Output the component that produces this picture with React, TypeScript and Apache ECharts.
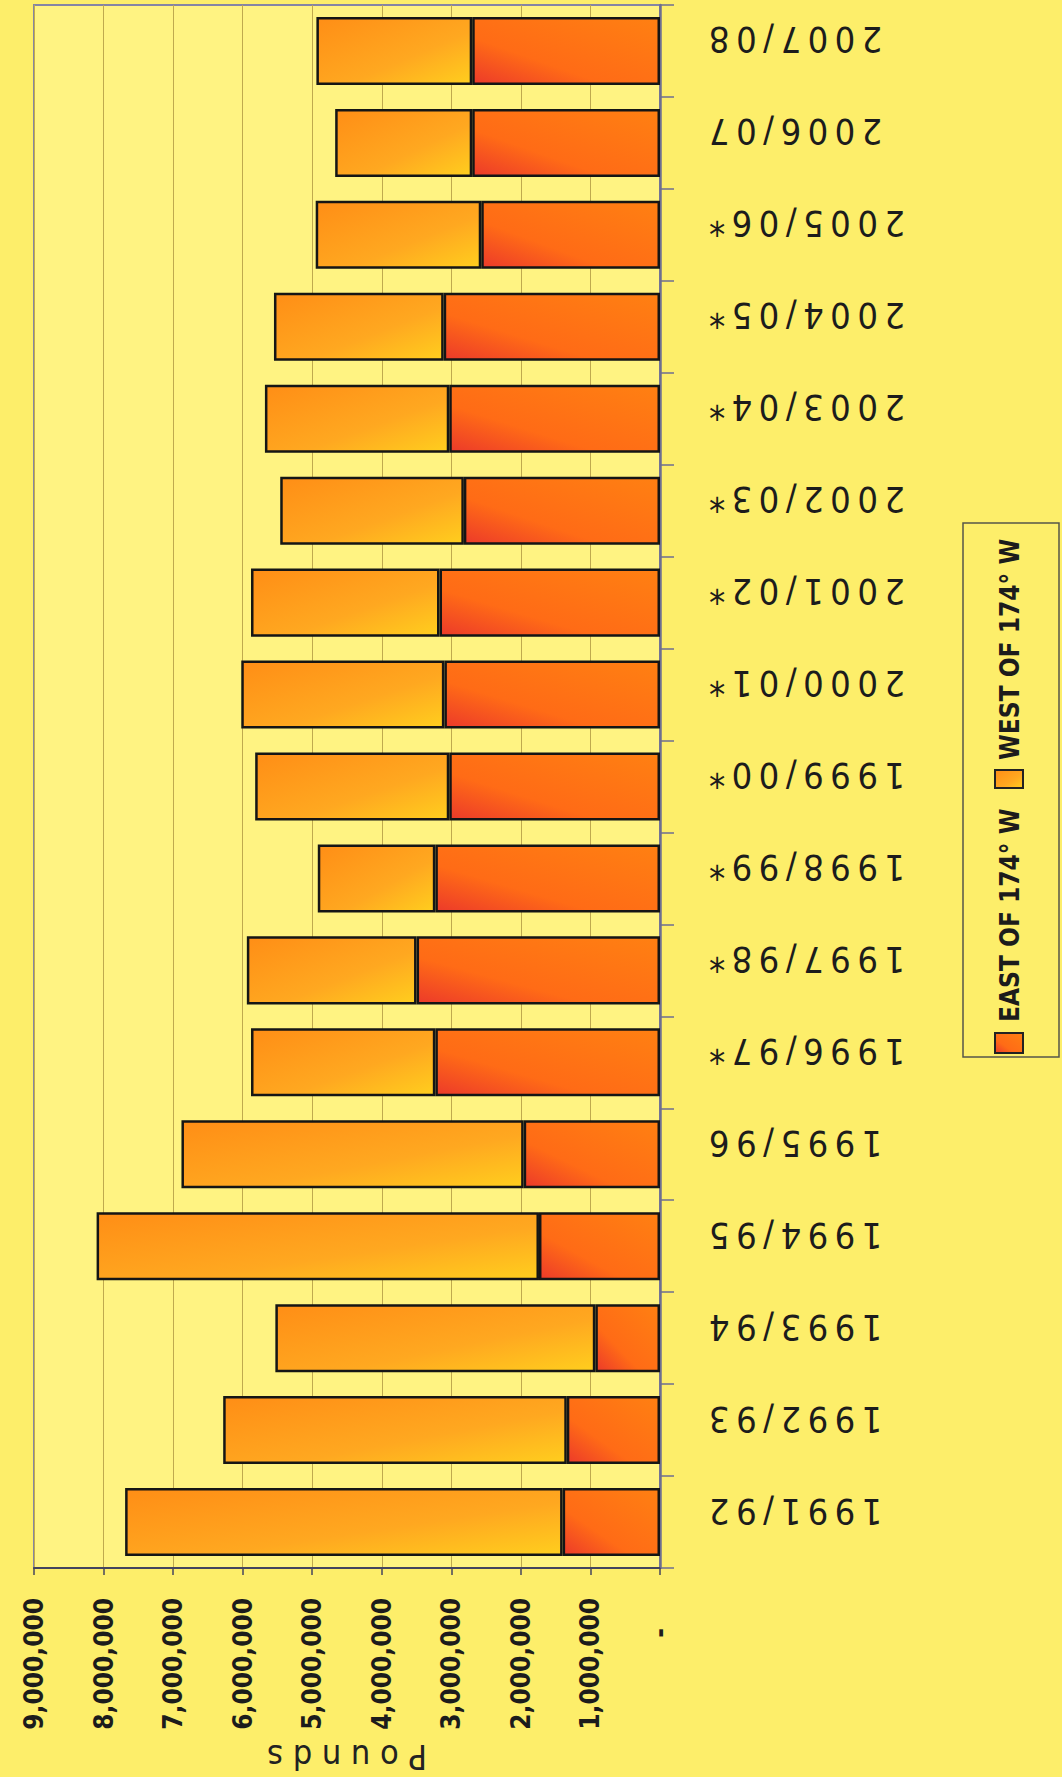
import React, { useEffect, useRef } from "react";
import * as echarts from "echarts";

// ---- data (pounds) ----
const categories = [
  "1991/92", "1992/93", "1993/94", "1994/95", "1995/96",
  "1996/97*", "1997/98*", "1998/99*", "1999/00*", "2000/01*",
  "2001/02*", "2002/03*", "2003/04*", "2004/05*", "2005/06*",
  "2006/07", "2007/08",
];
const eastOf174W = [
  1400000, 1340000, 930000, 1740000, 1960000,
  3230000, 3500000, 3230000, 3030000, 3100000,
  3170000, 2820000, 3030000, 3110000, 2570000,
  2700000, 2700000,
];
const westOf174W = [
  6290000, 4940000, 4600000, 6360000, 4920000,
  2650000, 2440000, 1690000, 2790000, 2920000,
  2710000, 2640000, 2650000, 2440000, 2380000,
  1970000, 2240000,
];
const seriesNames = ["EAST OF 174\u00b0 W", "WEST OF 174\u00b0 W"];
const axisTitle = "Pounds";

const FONT = '"Liberation Sans Narrow", "Arial Narrow", "DejaVu Sans Condensed", sans-serif';

function fmtNum(v: number): string {
  if (v === 0) return "{z|-}";
  return String(Math.round(v)).replace(/\B(?=(\d{3})+(?!\d))/g, ",");
}
function spaced(s: string, sep: string): string {
  return s.split("").join(sep);
}

export default function App() {
  const ref = useRef<HTMLDivElement>(null);
  useEffect(() => {
    if (!ref.current) return;
    const chart = echarts.init(ref.current, undefined, { renderer: "svg" });
    const eastGrad = new echarts.graphic.LinearGradient(1, 0, 0, 1, [
      { offset: 0, color: "#FF8012" },
      { offset: 0.65, color: "#FF6B16" },
      { offset: 1, color: "#EC3A2A" },
    ]);
    const westGrad = new echarts.graphic.LinearGradient(0, 0, 1, 1, [
      { offset: 0, color: "#FF8E16" },
      { offset: 0.6, color: "#FFA820" },
      { offset: 1, color: "#FFCE1E" },
    ]);
    const option: any = {
      animation: false,
      backgroundColor: "#FDEE6A",
      grid: {
        left: 34, right: 402, top: 5, bottom: 209,
        containLabel: false, outerBoundsMode: "none",
        show: true, backgroundColor: "#FFF382",
        borderColor: "#8585A5", borderWidth: 2,
      },
      xAxis: {
        type: "value", inverse: true, min: 0, max: 9000000, interval: 1000000,
        position: "bottom",
        axisLine: { show: true, lineStyle: { color: "#44445E", width: 2 } },
        axisTick: { show: true, length: 7, lineStyle: { color: "#44445E", width: 1.5 } },
        splitLine: { show: true, lineStyle: { color: "#BFA94E", width: 1 } },
        axisLabel: {
          rotate: 90, margin: 30, formatter: fmtNum,
          fontFamily: FONT, fontWeight: "bold", fontSize: 26, color: "#1C1C1C",
          rich: { z: { padding: [0, 30, 0, 0], fontFamily: FONT, fontWeight: "bold", fontSize: 26, color: "#1C1C1C" } },
        },
        name: spaced(axisTitle, " "), nameLocation: "middle", nameRotate: 180, nameGap: 172,
        nameMoveOverlap: false,
        nameTextStyle: { fontFamily: FONT, fontSize: 34, lineHeight: 34, color: "#222" },
      },
      yAxis: {
        type: "category", data: categories, position: "right",
        axisLine: { show: true, lineStyle: { color: "#6E6E90", width: 2.5 } },
        axisTick: { show: true, length: 14, lineStyle: { color: "#6E6E90", width: 1.5 } },
        axisLabel: {
          rotate: 180, margin: 49, interval: 0,
          formatter: (s: string) => spaced(s, "\u2009"),
          fontFamily: FONT, fontSize: 36, color: "#1C1C1C",
          verticalAlign: "top", lineHeight: 22,
        },
      },
      series: [
        {
          name: seriesNames[0], type: "bar", stack: "total", data: eastOf174W,
          barCategoryGap: "26%",
          itemStyle: { color: eastGrad, borderColor: "#151515", borderWidth: 2.5 },
        },
        {
          name: seriesNames[1], type: "bar", stack: "total", data: westOf174W,
          barCategoryGap: "26%",
          itemStyle: { color: westGrad, borderColor: "#151515", borderWidth: 2.5 },
        },
      ],
      graphic: [
        {
          type: "rect", shape: { x: 963, y: 523, width: 96, height: 534 },
          style: { fill: "none", stroke: "#55554A", lineWidth: 1.5 },
        },
        {
          type: "rect", shape: { x: 995, y: 1033, width: 28, height: 20 },
          style: { fill: eastGrad, stroke: "#222", lineWidth: 2 },
        },
        {
          type: "text", x: 1010, y: 1022, rotation: Math.PI / 2,
          style: {
            text: seriesNames[0], fontFamily: FONT, fontWeight: "bold", fontSize: 26,
            fill: "#1C1C1C", align: "left", verticalAlign: "middle",
            textAlign: "left", textVerticalAlign: "middle",
          },
        },
        {
          type: "rect", shape: { x: 995, y: 770, width: 28, height: 18 },
          style: { fill: westGrad, stroke: "#222", lineWidth: 2 },
        },
        {
          type: "text", x: 1010, y: 760, rotation: Math.PI / 2,
          style: {
            text: seriesNames[1], fontFamily: FONT, fontWeight: "bold", fontSize: 26,
            fill: "#1C1C1C", align: "left", verticalAlign: "middle",
            textAlign: "left", textVerticalAlign: "middle",
          },
        },
      ],
    };
    chart.setOption(option);
    return () => chart.dispose();
  }, []);
  return (
    <div
      ref={ref}
      style={{ position: "absolute", left: 0, top: 0, width: 1062, height: 1777, background: "#FDEE6A" }}
    />
  );
}
